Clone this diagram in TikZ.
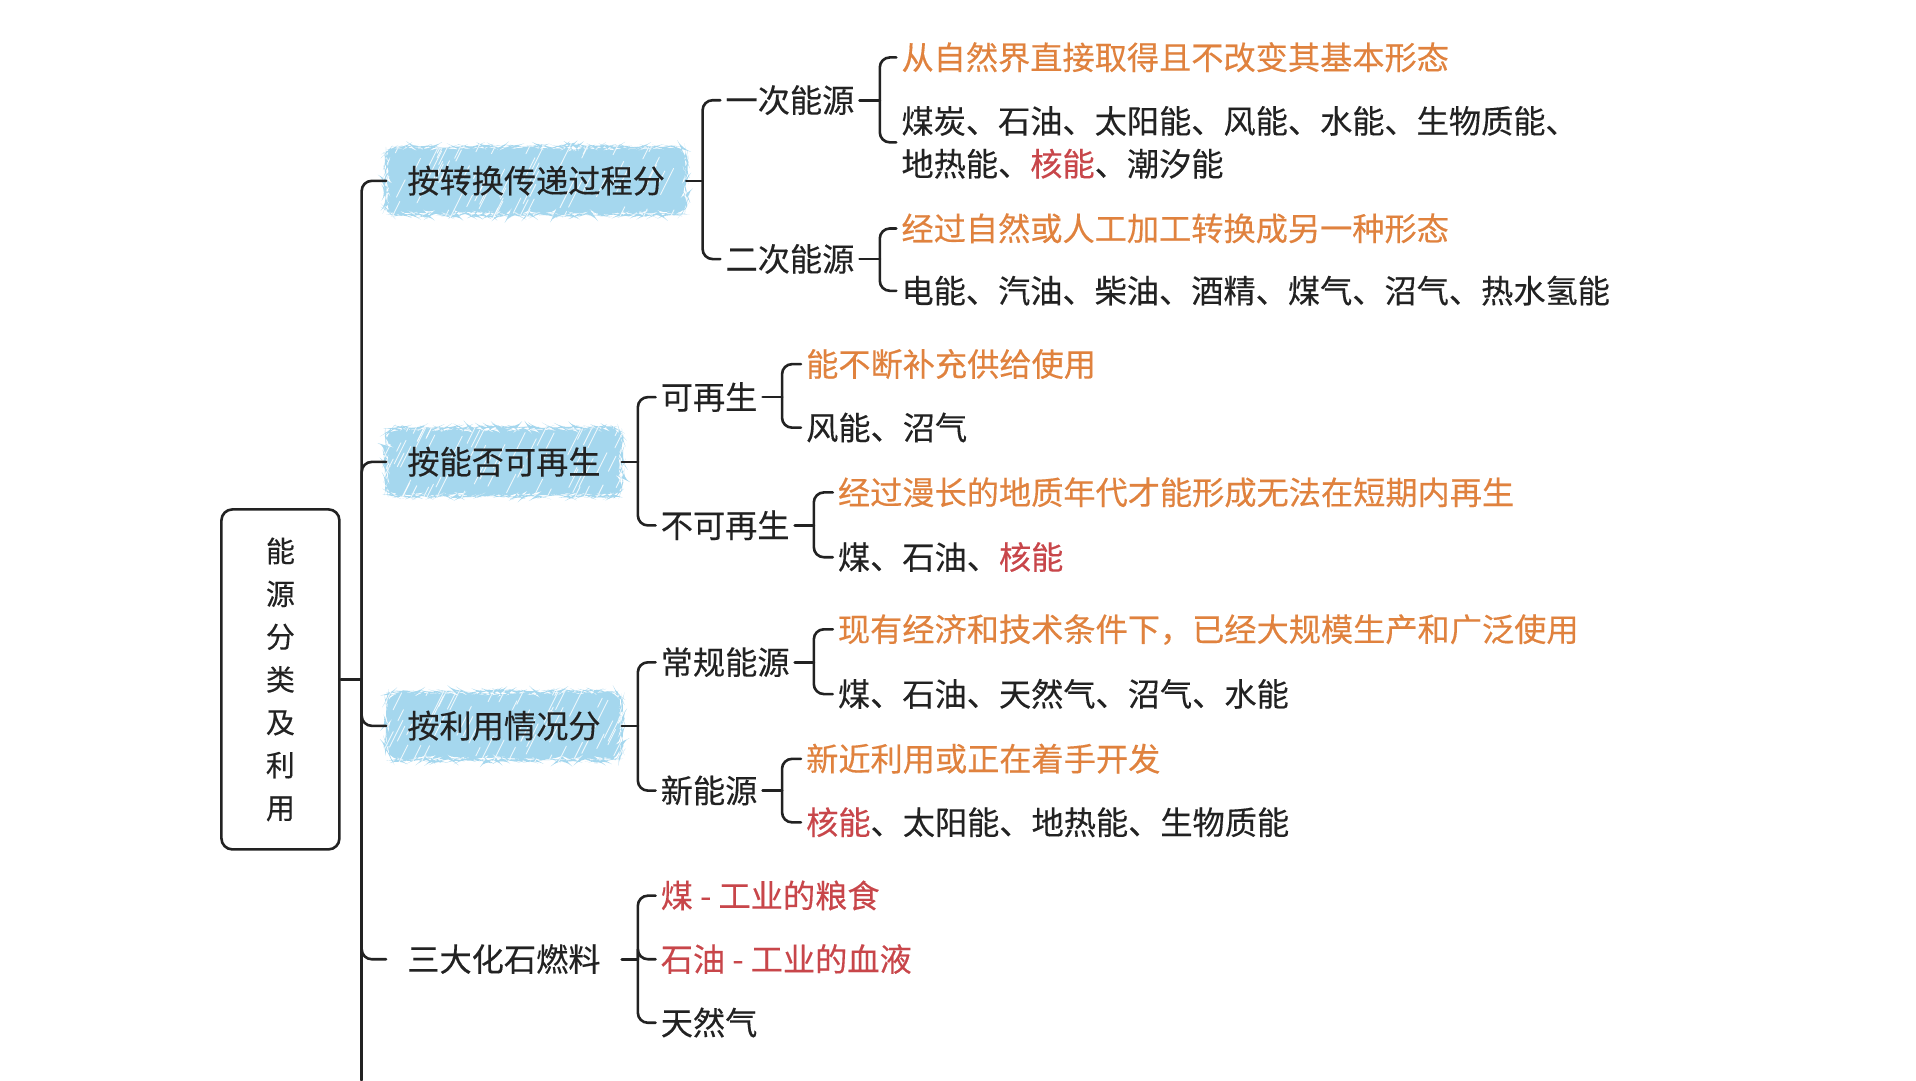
\documentclass[tikz,border=0pt]{standalone}
\usepackage{fontspec}
\setmainfont{Noto Sans CJK SC}[FakeBold=0.3]
\usetikzlibrary{decorations.pathmorphing}
\definecolor{ink}{HTML}{222222}
\definecolor{orng}{HTML}{E0823E}
\definecolor{redk}{HTML}{C8464A}
\definecolor{skyb}{HTML}{A5D7EE}
\begin{document}
\pgfmathsetseed{7}
\begin{tikzpicture}[x=1.2219pt,y=-1.2219pt,
  basefont/.style={font=\fontsize{32.2pt}{42.8pt}\selectfont},
  txt/.style={basefont, text=ink, anchor=west, inner xsep=5pt, inner ysep=2pt,
    text height=25.8pt, text depth=1.6pt},
  note/.style={txt, text=orng},
  redtxt/.style={txt, text=redk},
  multi/.style={basefont, text=ink, anchor=west, inner xsep=5pt, inner ysep=2pt, align=left},
  lvl/.style={basefont, text=ink, anchor=west, inner xsep=21pt, inner ysep=20pt,
    text height=25.8pt, text depth=1.6pt},
  hatch/.style={path picture={
    \foreach \k in {1,...,90}{
      \pgfmathsetlengthmacro{\hx}{rnd*330-10}
      \pgfmathsetlengthmacro{\hy}{rnd*100-25}
      \pgfmathsetlengthmacro{\hl}{8+rnd*22}
      \pgfmathsetlengthmacro{\hw}{0.5*\hl}
      \draw[white, line width=0.9pt, opacity=0.8, line cap=round]
        ([shift={(\hx,\hy)}]path picture bounding box.south west) -- ++(\hw,\hl);
    }}},
  blob/.style={lvl, fill=skyb, rounded corners=10pt, decorate,
    decoration={random steps, segment length=3pt, amplitude=1.4pt}, hatch},
  rootbox/.style={draw=ink, line width=2.6pt, rounded corners=11pt,
    minimum width=118pt, minimum height=340pt, align=center, text=ink,
    font=\fontsize{29pt}{42.8pt}\selectfont},
  conn/.style={draw=ink, line width=2.6pt, rounded corners=10pt, line cap=round}]

\fill[white] (0,0) rectangle (1568,884);
\useasboundingbox (0,0) rectangle (1568,884);

% root
\node[rootbox] (root) at (229.5,556) {能\\源\\分\\类\\及\\利\\用};

% level 1
\node[blob] (a) at (316,148) {按转换传递过程分};
\node[blob] (c) at (316,378) {按能否可再生};
\node[blob] (d) at (316,594) {按利用情况分};
\node[lvl]  (e) at (316,785) {三大化石燃料};

% level 2
\node[txt] (b1) at (589.5,82) {一次能源};
\node[txt] (b2) at (589.5,212) {二次能源};
\node[txt] (c1) at (536.5,325) {可再生};
\node[txt] (c2) at (536.5,430) {不可再生};
\node[txt] (d1) at (536.5,542) {常规能源};
\node[txt] (d2) at (536.5,647) {新能源};
\node[redtxt] (e1) at (536.5,733) {煤\ - 工业的粮食};
\node[redtxt] (e2) at (536.5,785) {石油\ - 工业的血液};
\node[txt] (e3) at (536.5,837) {天然气};

% level 3
\node[note] (f1) at (733.5,47) {从自然界直接取得且不改变其基本形态};
\node[multi] (f2) at (733.5,116.5) {煤炭、石油、太阳能、风能、水能、生物质能、\\地热能、\textcolor{redk}{核能}、潮汐能};
\node[note] (g1) at (733.5,187) {经过自然或人工加工转换成另一种形态};
\node[txt] (g2) at (733.5,238) {电能、汽油、柴油、酒精、煤气、沼气、热水氢能};
\node[note] (h1) at (655.5,298) {能不断补充供给使用};
\node[txt] (h2) at (655.5,350) {风能、沼气};
\node[note] (i1) at (681.5,403) {经过漫长的地质年代才能形成无法在短期内再生};
\node[txt] (i2) at (681.5,456) {煤、石油、\textcolor{redk}{核能}};
\node[note] (j1) at (681.5,515) {现有经济和技术条件下，已经大规模生产和广泛使用};
\node[txt] (j2) at (681.5,568) {煤、石油、天然气、沼气、水能};
\node[note] (k1) at (655.5,621) {新近利用或正在着手开发};
\node[txt] (k2) at (655.5,673) {\textcolor{redk}{核能}、太阳能、地热能、生物质能};

% junction points
\coordinate (jr) at (296,556);
\coordinate (tail) at (296,884);
\coordinate (ja) at (575,148);
\coordinate (jc) at (522,378);
\coordinate (jd) at (522,594);
\coordinate (je) at (522,785);
\coordinate (jb1) at (720,82);
\coordinate (jb2) at (720,212);
\coordinate (jc1) at (640,325);
\coordinate (jc2) at (666,430);
\coordinate (jd1) at (666,542);
\coordinate (jd2) at (640,647);

% trunk
\draw[conn] (root.east) -- (jr);
\draw[conn] (jr) -- (tail);
\foreach \n in {a,c,d,e} \draw[conn] (jr) |- (\n.west);

% level 1 -> 2
\draw[conn] (a.east) -- (ja);
\foreach \n in {b1,b2} \draw[conn] (ja) |- (\n.west);
\draw[conn] (c.east) -- (jc);
\foreach \n in {c1,c2} \draw[conn] (jc) |- (\n.west);
\draw[conn] (d.east) -- (jd);
\foreach \n in {d1,d2} \draw[conn] (jd) |- (\n.west);
\draw[conn] (e.east) -- (je);
\foreach \n in {e1,e2,e3} \draw[conn] (je) |- (\n.west);

% level 2 -> 3
\draw[conn] (b1.east) -- (jb1);
\foreach \n in {f1,f2} \draw[conn] (jb1) |- (\n.west);
\draw[conn] (b2.east) -- (jb2);
\foreach \n in {g1,g2} \draw[conn] (jb2) |- (\n.west);
\draw[conn] (c1.east) -- (jc1);
\foreach \n in {h1,h2} \draw[conn] (jc1) |- (\n.west);
\draw[conn] (c2.east) -- (jc2);
\foreach \n in {i1,i2} \draw[conn] (jc2) |- (\n.west);
\draw[conn] (d1.east) -- (jd1);
\foreach \n in {j1,j2} \draw[conn] (jd1) |- (\n.west);
\draw[conn] (d2.east) -- (jd2);
\foreach \n in {k1,k2} \draw[conn] (jd2) |- (\n.west);
\end{tikzpicture}
\end{document}
